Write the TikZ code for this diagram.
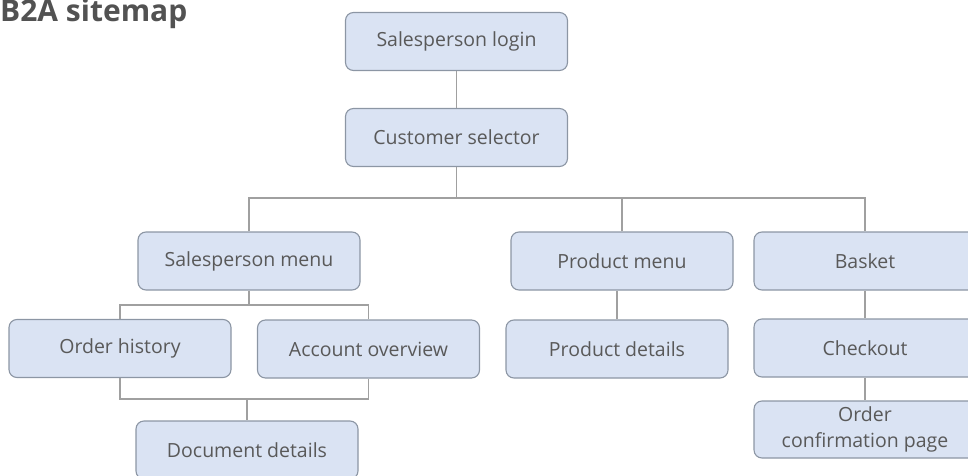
\documentclass[tikz,border=0pt]{standalone}
\usepackage{fontspec}
\setmainfont{Open Sans}
\begin{document}
\begin{tikzpicture}[x=1pt,y=1pt,
  box/.style={draw=boxline, line width=1.1pt, fill=boxfill, rounded corners=8pt,
    minimum width=222pt, minimum height=58pt, inner sep=0pt, text=txt,
    font=\fontsize{19.5}{26}\selectfont, align=center},
  conn/.style={draw=wire, line width=1.4pt}]
\definecolor{boxfill}{HTML}{DAE3F3}
\definecolor{boxline}{HTML}{8C96A4}
\definecolor{txt}{HTML}{595959}
\definecolor{wire}{HTML}{A0A0A0}
\useasboundingbox (0,0) rectangle (968,475);
\clip (0,0) rectangle (968,475);
\node[anchor=base west, text=black!68, font=\fontsize{30}{36}\selectfont\bfseries, inner sep=0pt] (title) at (0,453) {B2A sitemap};
\node[box] (login) at (456.5,433.5) {Salesperson login};
\node[box] (cust) at (456.5,337.5) {Customer selector};
\node[box] (smenu) at (249,214) {Salesperson menu};
\node[box] (pmenu) at (622,214) {Product menu};
\node[box] (basket) at (865,214) {Basket};
\node[box] (ohist) at (120,126.5) {Order history};
\node[box] (acct) at (368.5,126) {Account overview};
\node[box] (pdet) at (617,126) {Product details};
\node[box] (checkout) at (865,127) {Checkout};
\node[box] (docdet) at (247,25) {Document details};
\node[box, minimum height=57pt] (ordconf) at (865,45.5) {Order\\confirmation page};
\coordinate (bus) at (456.5,277);
\coordinate (sbus) at (249,170);
\coordinate (dbus) at (247,76);
\draw[conn] (login.south) -- (cust.north);
\draw[conn] (cust.south) -- (bus);
\draw[conn] (smenu.north) |- (bus) -| (basket.north);
\draw[conn] (pmenu.north) -- (pmenu.north |- bus);
\draw[conn] (smenu.south) -- (sbus);
\draw[conn] (ohist.north) |- (sbus) -| (acct.north);
\draw[conn] (ohist.south) |- (dbus) -| (acct.south);
\draw[conn] (dbus) -- (docdet.north);
\draw[conn] (pdet.north) -- (pdet.north |- pmenu.south);
\draw[conn] (basket.south) -- (checkout.north);
\draw[conn] (checkout.south) -- (ordconf.north);
\end{tikzpicture}
\end{document}
